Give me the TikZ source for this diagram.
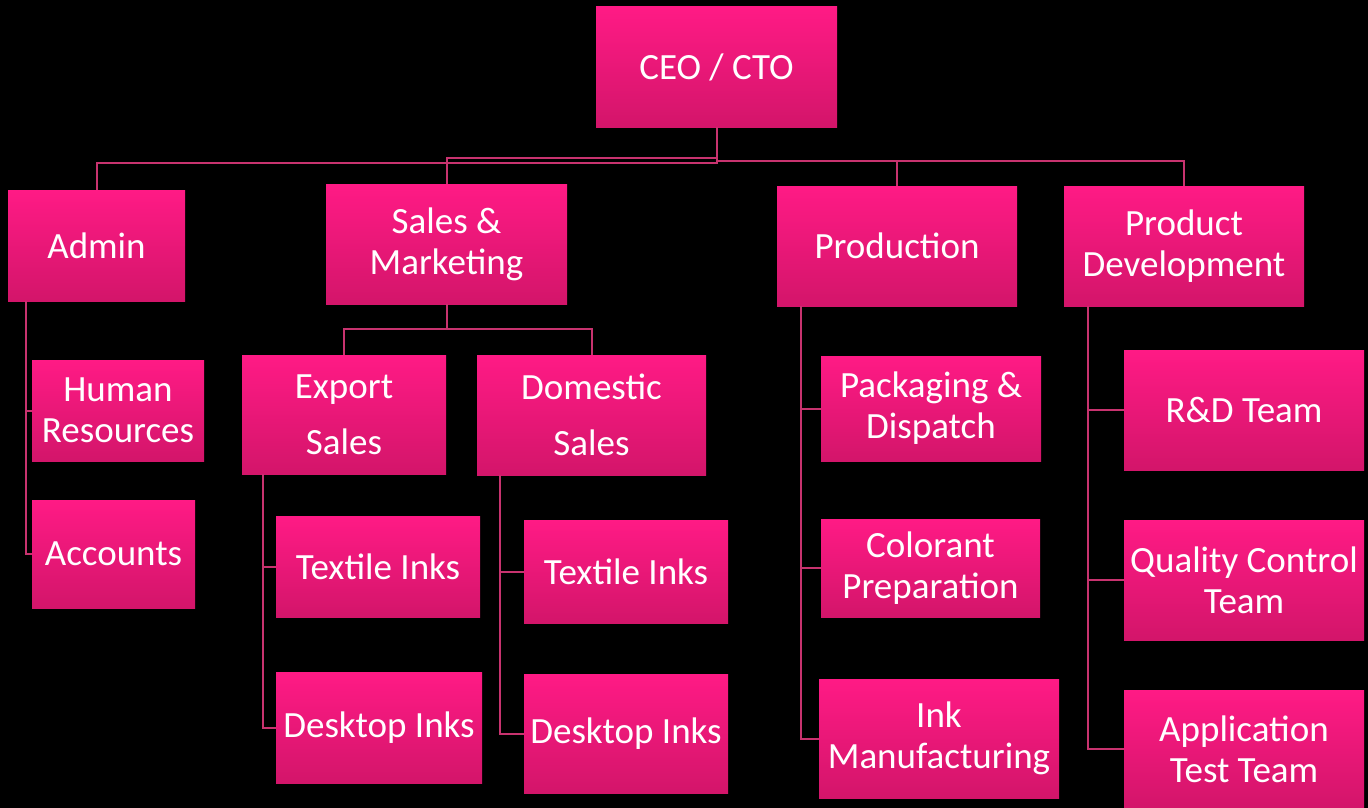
\documentclass[tikz,border=0pt]{standalone}
\usepackage{fontspec}
\setmainfont{Carlito}
\begin{document}
\begin{tikzpicture}[x=1pt,y=-1pt,
  box/.style={rectangle, inner sep=0pt, top color=boxtop, bottom color=boxbot, draw=none,
    text=white, align=center, font=\fontsize{37}{41}\selectfont},
  wide/.style={font=\fontsize{37}{56}\selectfont},
  conn/.style={draw=linec, line width=2pt}]
\definecolor{boxtop}{HTML}{FF1A85}
\definecolor{boxbot}{HTML}{D3156A}
\definecolor{linec}{HTML}{C8336F}
\fill[black] (0,0) rectangle (1368,808);
\useasboundingbox (0,0) rectangle (1368,808);
% level 0
\node[box, minimum width=241pt, minimum height=120pt] (ceo) at (716.5,67) {CEO / CTO};
% level 1
\node[box, minimum width=177pt, minimum height=111pt] (admin) at (96.5,245.5) {Admin};
\node[box, minimum width=241pt, minimum height=120pt] (sales) at (446.5,244) {\raisebox{-3pt}{Sales \&}\\\raisebox{-3pt}{Marketing}};
\node[box, minimum width=240pt, minimum height=120pt] (prod) at (897,246) {Production};
\node[box, minimum width=240pt, minimum height=120pt] (pdev) at (1184,246) {\raisebox{-3pt}{Product}\\\raisebox{-3pt}{Development}};
% admin children
\node[box, minimum width=172pt, minimum height=101pt] (hr) at (118,410.5) {Human\\Resources};
\node[box, minimum width=163pt, minimum height=108pt] (acc) at (113.5,554) {Accounts};
% sales children
\node[box, wide, minimum width=204pt, minimum height=119pt] (exp) at (344,414.5) {Export\\Sales};
\node[box, wide, minimum width=229pt, minimum height=120pt] (dom) at (591.5,415) {Domestic\\Sales};
\node[box, minimum width=204pt, minimum height=101pt] (tex1) at (378,566.5) {Textile Inks};
\node[box, minimum width=206pt, minimum height=111pt] (desk1) at (379,727.5) {Desktop Inks};
\node[box, minimum width=204pt, minimum height=103pt] (tex2) at (626,571.5) {Textile Inks};
\node[box, minimum width=204pt, minimum height=119pt] (desk2) at (626,733.5) {Desktop Inks};
% production children
\node[box, minimum width=220pt, minimum height=105pt] (pack) at (931,408.5) {Packaging \&\\Dispatch};
\node[box, minimum width=219pt, minimum height=98pt] (col) at (930.5,568) {Colorant\\Preparation};
\node[box, minimum width=240pt, minimum height=119pt] (ink) at (939,738.5) {Ink\\Manufacturing};
% product development children
\node[box, minimum width=240pt, minimum height=120pt] (rd) at (1244,410) {R\&D Team};
\node[box, minimum width=240pt, minimum height=120pt] (qc) at (1244,580) {Quality Control\\Team};
\node[box, minimum width=240pt, minimum height=118pt] (app) at (1244,749) {Application\\Test Team};
% connectors level 0 -> 1
\draw[conn] (ceo.south) -- ++(0,36) -| (admin.north);
\draw[conn] (ceo.south) -- ++(0,31) -| (sales.north);
\draw[conn] (ceo.south) -- ++(0,34) -| (prod.north);
\draw[conn] (ceo.south) -- ++(0,34) -| (pdev.north);
% admin
\draw[conn] ([xshift=18pt]admin.south west) |- (hr.west);
\draw[conn] ([xshift=18pt]admin.south west) |- (acc.west);
% sales
\draw[conn] (sales.south) -- ++(0,25) -| (exp.north);
\draw[conn] (sales.south) -- ++(0,25) -| (dom.north);
\draw[conn] ([xshift=21pt]exp.south west) |- (tex1.west);
\draw[conn] ([xshift=21pt]exp.south west) |- (desk1.west);
\draw[conn] ([xshift=23pt]dom.south west) |- (tex2.west);
\draw[conn] ([xshift=23pt]dom.south west) |- (desk2.west);
% production
\draw[conn] ([xshift=24pt]prod.south west) |- (pack.west);
\draw[conn] ([xshift=24pt]prod.south west) |- (col.west);
\draw[conn] ([xshift=24pt]prod.south west) |- (ink.west);
% product development
\draw[conn] ([xshift=24pt]pdev.south west) |- (rd.west);
\draw[conn] ([xshift=24pt]pdev.south west) |- (qc.west);
\draw[conn] ([xshift=24pt]pdev.south west) |- (app.west);
\end{tikzpicture}
\end{document}
